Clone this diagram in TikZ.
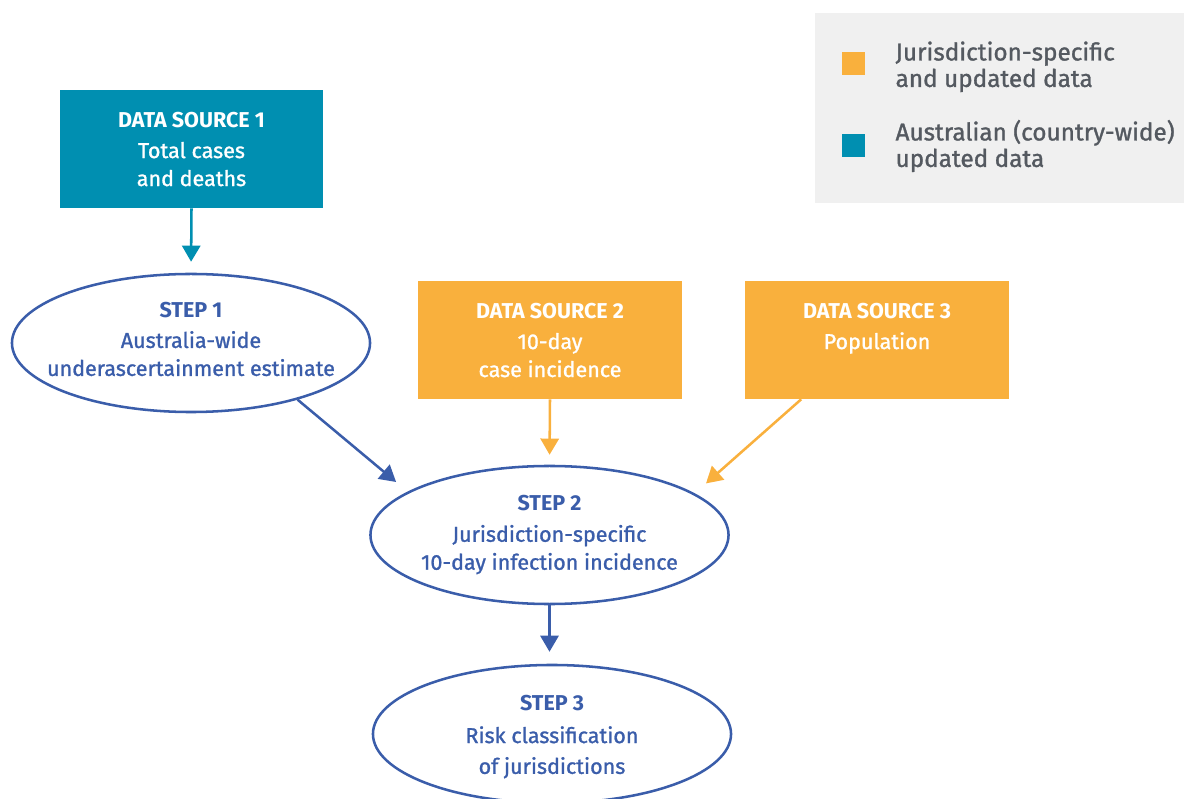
\documentclass[tikz,border=0pt]{standalone}
\usepackage{fontspec}
\setmainfont{Fira Sans}[UprightFeatures={FakeBold=1.2}]
\usetikzlibrary{shapes.geometric, arrows.meta, positioning}

\definecolor{tealsrc}{HTML}{008FB1}
\definecolor{orangesrc}{HTML}{F9B03D}
\definecolor{stepblue}{HTML}{3A5DAA}
\definecolor{leggray}{HTML}{545960}
\definecolor{legbg}{HTML}{F0F0F0}

\begin{document}
\begin{tikzpicture}[x=0.025cm, y=-0.025cm,
  srcbox/.style={rectangle, minimum width=6.575cm, minimum height=2.95cm, inner sep=0pt},
  srctext/.style={text=white, align=center, inner sep=0pt, font=\fontsize{15.3}{19.9}\selectfont},
  stepshape/.style={ellipse, draw=stepblue, line width=1.8pt, minimum width=8.95cm, minimum height=3.45cm, inner sep=0pt},
  steptext/.style={text=stepblue, align=center, inner sep=0pt, font=\fontsize{15.3}{19.9}\selectfont},
  flow/.style={line width=1.8pt, -{Triangle[length=11.5pt, width=13pt]}},
  legsq/.style={rectangle, minimum size=0.575cm, inner sep=0pt},
  legtext/.style={text=leggray, align=left, inner sep=0pt, font=\fontsize{17.3}{18.8}\selectfont}]
  \useasboundingbox (0,0) rectangle (1184,799);

  % legend
  \node[rectangle, fill=legbg, minimum width=9.225cm, minimum height=4.75cm, inner sep=0pt] (legend) at (999.5,108) {};
  \node[legsq, fill=orangesrc] (leg_orange) at (853.5,64) {};
  \node[legsq, fill=tealsrc] (leg_teal) at (853.5,146) {};
  \node[legtext, right=0.75cm of leg_orange, yshift=-2pt] (leg_orange_txt) {Jurisdiction-specific\\and updated data};
  \node[legtext, right=0.75cm of leg_teal] (leg_teal_txt) {Australian (country-wide)\\updated data};

  % data sources
  \node[srcbox, fill=tealsrc] (ds1) at (191.5,149) {};
  \node[srcbox, fill=orangesrc] (ds2) at (550,340) {};
  \node[srcbox, fill=orangesrc] (ds3) at (877,340) {};
  \node[srctext, below=0.55cm of ds1.north] (ds1_txt) {\textbf{DATA SOURCE 1}\\[2pt]Total cases\\and deaths};
  \node[srctext, below=0.55cm of ds2.north] (ds2_txt) {\textbf{DATA SOURCE 2}\\[2pt]10-day\\case incidence};
  \node[srctext, below=0.55cm of ds3.north] (ds3_txt) {\textbf{DATA SOURCE 3}\\[2pt]Population};

  % steps
  \node[stepshape] (step1) at (191,343) {};
  \node[stepshape] (step2) at (549.5,535) {};
  \node[stepshape] (step3) at (552,734) {};
  \node[steptext] (step1_txt) at ([yshift=0.1cm]step1.center) {\textbf{STEP 1}\\[2pt]Australia-wide\\underascertainment estimate};
  \node[steptext] (step2_txt) at (step2) {\textbf{STEP 2}\\[2pt]Jurisdiction-specific\\10-day infection incidence};
  \node[steptext] (step3_txt) at ([yshift=-0.075cm]step3.center) {\textbf{STEP 3}\\[3pt]Risk classification\\[2pt]of jurisdictions};

  % arrows
  \draw[flow, tealsrc, shorten >=7.8pt] (ds1.south) -- (step1.north);
  \draw[flow, orangesrc, shorten >=7.1pt] (ds2.south) -- (step2.north);
  \draw[flow, orangesrc, shorten >=10.7pt] ([xshift=1.4cm]ds3.south west) -- (step2.16.5);
  \draw[flow, stepblue, shorten >=10.7pt] (step1.-28) -- (step2.163.5);
  \draw[flow, stepblue, shorten >=8.5pt] (step2.south) -- (step2.south |- step3.north);
\end{tikzpicture}
\end{document}
